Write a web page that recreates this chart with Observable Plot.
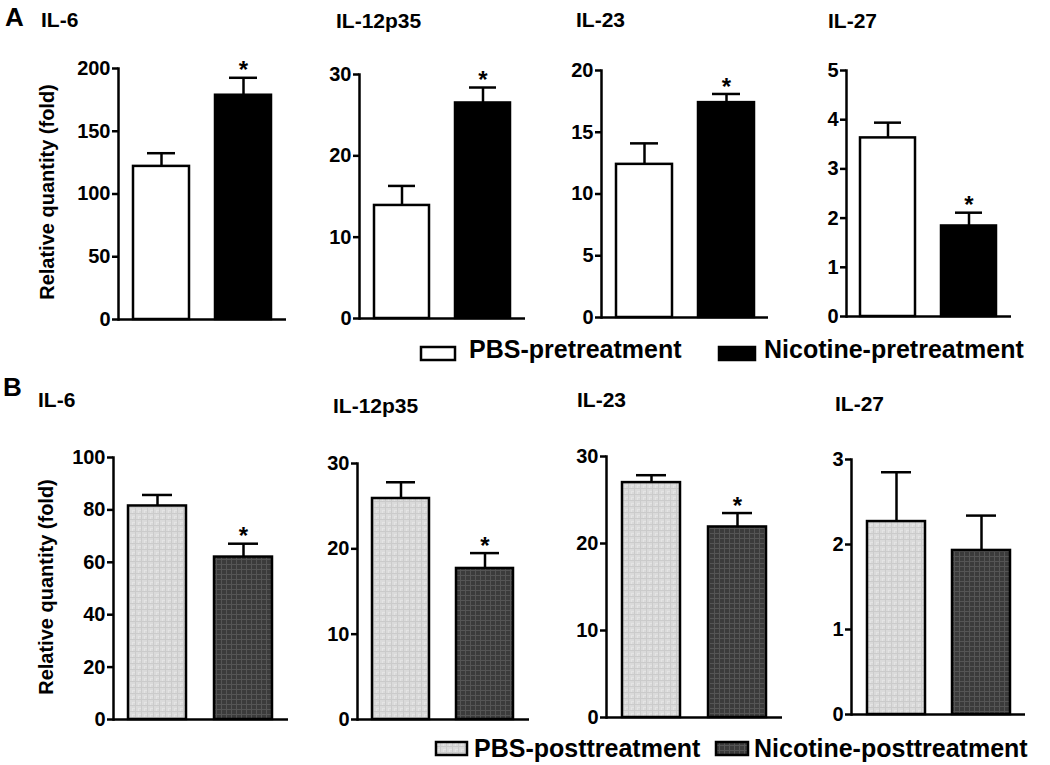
<!DOCTYPE html>
<html><head><meta charset="utf-8">
<script src="https://cdn.jsdelivr.net/npm/d3@7"></script>
<script src="https://cdn.jsdelivr.net/npm/@observablehq/plot@0.6"></script>
<style>
body{margin:0;background:#fff;}
#root{position:relative;width:1050px;height:765px;overflow:hidden;font-family:"Liberation Sans",Arial,sans-serif;font-weight:bold;color:#000;}
.t{position:absolute;white-space:nowrap;line-height:1;}
.p{position:absolute;}
.p svg{overflow:visible;}
</style></head><body>
<svg width="0" height="0" style="position:absolute">
<defs>
<pattern id="lightGrid" width="6" height="6" patternUnits="userSpaceOnUse">
<rect width="6" height="6" fill="#dadada"/>
<path d="M0 0.5H6M0.5 0V6" stroke="#cbcbcb" stroke-width="1"/>
<path d="M3 3.5H6M3.5 3V6" stroke="#e4e4e4" stroke-width="1"/>
</pattern>
<pattern id="darkGrid" width="5" height="5" patternUnits="userSpaceOnUse">
<rect width="5" height="5" fill="#3b3b3b"/>
<path d="M0 0.5H5M0.5 0V5" stroke="#555555" stroke-width="1"/>
</pattern>
</defs></svg>
<div id="root"></div>
<script>
// ---------- data ----------
const cytokines = ["IL-6", "IL-12p35", "IL-23", "IL-27"];
const groupsA = ["PBS-pretreatment", "Nicotine-pretreatment"];
const groupsB = ["PBS-posttreatment", "Nicotine-posttreatment"];

const prePBS = [122, 13.9, 12.4, 3.63];
const prePBSsem = [10.5, 2.4, 1.7, 0.31];
const preNic = [178.7, 26.5, 17.4, 1.84];
const preNicSem = [13.9, 1.9, 0.7, 0.27];
const preNicSig = [true, true, true, true];

const postPBS = [81.5, 25.9, 27.0, 2.27];
const postPBSsem = [4.2, 1.9, 0.85, 0.58];
const postNic = [62.0, 17.7, 21.9, 1.93];
const postNicSem = [5.1, 1.8, 1.6, 0.41];
const postNicSig = [true, true, true, false];

const yMaxA = [200, 30, 20, 5];
const yTicksA = [[0, 50, 100, 150, 200], [0, 10, 20, 30], [0, 5, 10, 15, 20], [0, 1, 2, 3, 4, 5]];
const yMaxB = [100, 30, 30, 3];
const yTicksB = [[0, 20, 40, 60, 80, 100], [0, 10, 20, 30], [0, 10, 20, 30], [0, 1, 2, 3]];

const yLabel = "Relative quantity (fold)";

// ---------- layout (pixel frame of each panel: y-axis x, axis end x, top tick y, zero y) ----------
const layoutA = [
  {x0: 118, x1: 286, yT: 68, yB: 319},
  {x0: 359, x1: 525, yT: 74, yB: 318},
  {x0: 601, x1: 768, yT: 70, yB: 317},
  {x0: 846, x1: 1011, yT: 70, yB: 316}
];
const layoutB = [
  {x0: 113, x1: 288, yT: 457, yB: 719},
  {x0: 357, x1: 529, yT: 463, yB: 719},
  {x0: 606, x1: 782, yT: 456, yB: 717},
  {x0: 851, x1: 1025, yT: 459, yB: 714}
];
const titleA = [{x: 41, b: 27}, {x: 336, b: 28}, {x: 576, b: 27}, {x: 828, b: 28}];
const titleB = [{x: 38, b: 407}, {x: 333, b: 413}, {x: 577, b: 407}, {x: 835, b: 411}];

const FONT = '"Liberation Sans", Arial, sans-serif';
const root = document.getElementById("root");

function text(str, x, baseline, fs, extra) {
  const d = document.createElement("div");
  d.className = "t";
  d.textContent = str;
  d.style.left = x + "px";
  d.style.top = (baseline - 0.8465 * fs) + "px";
  d.style.fontSize = fs + "px";
  if (extra) Object.assign(d.style, extra);
  root.appendChild(d);
  return d;
}

function vlabel(str, cx, cy, fs) {
  const d = document.createElement("div");
  d.className = "t";
  d.textContent = str;
  d.style.fontSize = fs + "px";
  d.style.left = cx + "px";
  d.style.top = cy + "px";
  d.style.transform = "translate(-50%,-50%) rotate(-90deg)";
  root.appendChild(d);
}

function panel(L, groups, vals, sems, sigs, yMax, ticks, fills) {
  const mL = 62, mR = 12, mT = 28, mB = 12;
  const data = groups.map((g, i) => ({group: g, value: vals[i], sem: sems[i], sig: sigs[i]}));
  const plot = Plot.plot({
    width: L.x1 - L.x0 + mL + mR,
    height: L.yB - L.yT + mT + mB,
    marginLeft: mL, marginRight: mR, marginTop: mT, marginBottom: mB,
    style: {fontFamily: FONT, fontWeight: "bold", color: "black", background: "transparent", fontSize: "20px"},
    x: {domain: groups, paddingInner: 0.32, paddingOuter: 0.175, axis: null},
    y: {domain: [0, yMax], axis: null},
    marks: [
      Plot.barY(data, {filter: d => d.group === groups[0], x: "group", y: "value", fill: fills[0], stroke: "black", strokeWidth: 2.5}),
      Plot.barY(data, {filter: d => d.group === groups[1], x: "group", y: "value", fill: fills[1], stroke: "black", strokeWidth: 2.5}),
      Plot.ruleX(data, {x: "group", y1: "value", y2: d => d.value + d.sem, stroke: "black", strokeWidth: 2.5}),
      Plot.tickY(data, {x: "group", y: d => d.value + d.sem, stroke: "black", strokeWidth: 2.5, inset: 14}),
      Plot.text(data.filter(d => d.sig), {x: "group", y: d => d.value + d.sem, text: () => "*", fontSize: 24, fontWeight: "bold", dy: -7}),
      Plot.axisY({ticks: ticks, label: null, tickSize: 6, tickPadding: 2, fontSize: 20, strokeWidth: 2.5, tickFormat: d => String(d)}),
      Plot.frame({anchor: "left", strokeWidth: 2.5}),
      Plot.ruleY([0], {strokeWidth: 2.5})
    ]
  });
  const wrap = document.createElement("div");
  wrap.className = "p";
  wrap.style.left = (L.x0 - mL) + "px";
  wrap.style.top = (L.yT - mT) + "px";
  wrap.appendChild(plot);
  root.appendChild(wrap);
}

// Row A
text("A", 5, 26, 26);
cytokines.forEach((c, i) => {
  text(c, titleA[i].x, titleA[i].b, 21);
  panel(layoutA[i], groupsA, [prePBS[i], preNic[i]], [prePBSsem[i], preNicSem[i]], [false, preNicSig[i]],
        yMaxA[i], yTicksA[i], ["white", "black"]);
});
vlabel(yLabel, 47, 192, 20);

// Row B
text("B", 3, 396, 26);
cytokines.forEach((c, i) => {
  text(c, titleB[i].x, titleB[i].b, 21);
  panel(layoutB[i], groupsB, [postPBS[i], postNic[i]], [postPBSsem[i], postNicSem[i]], [false, postNicSig[i]],
        yMaxB[i], yTicksB[i], ["url(#lightGrid)", "url(#darkGrid)"]);
});
vlabel(yLabel, 46, 587, 20);

// Legends
function swatch(x, y, w, h, fill) {
  const ns = "http://www.w3.org/2000/svg";
  const s = document.createElementNS(ns, "svg");
  s.setAttribute("width", w + 4); s.setAttribute("height", h + 4);
  s.style.position = "absolute"; s.style.left = (x - 2) + "px"; s.style.top = (y - 2) + "px";
  const r = document.createElementNS(ns, "rect");
  r.setAttribute("x", 2); r.setAttribute("y", 2); r.setAttribute("width", w); r.setAttribute("height", h);
  r.setAttribute("fill", fill); r.setAttribute("stroke", "black"); r.setAttribute("stroke-width", 2.5);
  s.appendChild(r);
  root.appendChild(s);
}
swatch(421, 347, 34, 13, "white");
text(groupsA[0], 469, 358, 25);
swatch(719, 347, 36, 13, "black");
text(groupsA[1], 764, 358, 25);

swatch(436, 742, 31, 13, "url(#lightGrid)");
text(groupsB[0], 474, 757, 25);
swatch(716, 742, 32, 13, "url(#darkGrid)");
text(groupsB[1], 754, 757, 25);
</script>
</body></html>
